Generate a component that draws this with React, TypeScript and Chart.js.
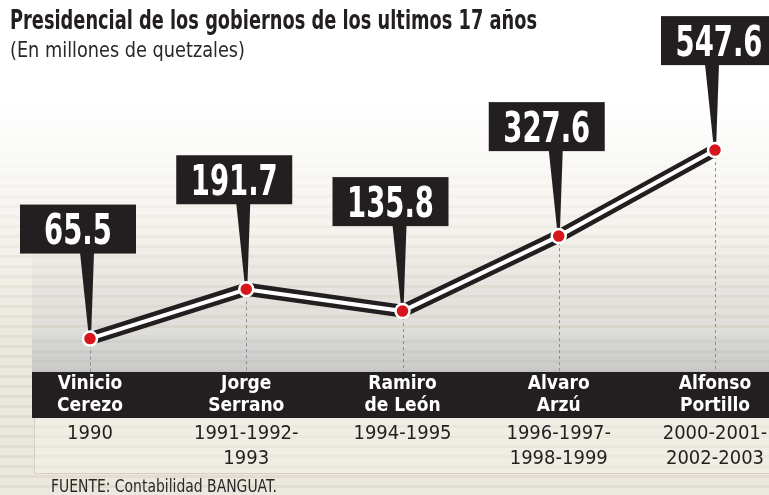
import React, { useEffect, useRef } from "react";
import { Chart, registerables } from "chart.js";

Chart.register(...registerables);

// ---------- data ----------
const presidents: string[][] = [
  ["Vinicio", "Cerezo"],
  ["Jorge", "Serrano"],
  ["Ramiro", "de León"],
  ["Alvaro", "Arzú"],
  ["Alfonso", "Portillo"],
];
const periods: string[][] = [
  ["1990"],
  ["1991-1992-", "1993"],
  ["1994-1995"],
  ["1996-1997-", "1998-1999"],
  ["2000-2001-", "2002-2003"],
];
const spending: number[] = [65.5, 191.7, 135.8, 327.6, 547.6];
const valueLabels: string[] = ["65.5", "191.7", "135.8", "327.6", "547.6"];
const titleText = "Presidencial de los gobiernos de los ultimos 17 años";
const subtitleText = "(En millones de quetzales)";
const sourceText = "FUENTE: Contabilidad BANGUAT.";

// ---------- style ----------
const FONT =
  '"Liberation Sans Narrow", "DejaVu Sans Condensed", "Roboto Condensed", Roboto, "Liberation Sans", sans-serif';
const INK = "#231f20";
const RED = "#d7151d";

function fitText(
  ctx: CanvasRenderingContext2D,
  text: string,
  x: number,
  y: number,
  width: number,
  align: "left" | "center"
) {
  const w = ctx.measureText(text).width;
  const k = Math.min(1, width / w);
  ctx.save();
  ctx.translate(x, y);
  ctx.scale(k, 1);
  ctx.textAlign = align;
  ctx.fillText(text, 0, 0);
  ctx.restore();
}

const decorPlugin = {
  id: "decor",
  beforeDraw(chart: any) {
    const ctx: CanvasRenderingContext2D = chart.ctx;
    const W = chart.width;
    const H = chart.height;
    const xs = chart.scales.x;
    const x2 = chart.scales.x2;
    const bandLeft = 32;
    const grayTop = xs.top - 37;
    ctx.save();
    // base background
    const g = ctx.createLinearGradient(0, 100, 0, 340);
    g.addColorStop(0, "#ffffff");
    g.addColorStop(1, "#ebe8df");
    ctx.fillStyle = g;
    ctx.fillRect(0, 0, W, H);
    ctx.fillStyle = "#ebe8df";
    ctx.fillRect(0, 340, W, H - 340);
    // greyish overlay on plotting side
    const go = ctx.createLinearGradient(0, 230, 0, grayTop);
    go.addColorStop(0, "rgba(218,218,216,0)");
    go.addColorStop(1, "rgba(218,218,216,0.8)");
    ctx.fillStyle = go;
    ctx.fillRect(bandLeft, 230, W - bandLeft, grayTop - 230);
    // stripes
    for (let y = 125; y < H; y += 10) {
      const a = Math.min(1, Math.max(0, (y - 125) / 220));
      ctx.fillStyle = `rgba(190,180,150,${(a * 0.2).toFixed(3)})`;
      ctx.fillRect(0, y, W, 3);
    }
    // gray band
    const gg = ctx.createLinearGradient(0, grayTop, 0, xs.top);
    gg.addColorStop(0, "#d9d9d7");
    gg.addColorStop(1, "#c9c9c8");
    ctx.fillStyle = gg;
    ctx.fillRect(bandLeft, grayTop, W - bandLeft, xs.top - grayTop);
    for (let y = grayTop + 5; y < xs.top; y += 10) {
      ctx.fillStyle = "rgba(170,170,165,0.15)";
      ctx.fillRect(bandLeft, y, W - bandLeft, 3);
    }
    // black band for names
    ctx.fillStyle = INK;
    ctx.fillRect(bandLeft, xs.top, W - bandLeft, xs.bottom - xs.top);
    // years box
    ctx.fillStyle = "rgba(245,243,236,0.45)";
    ctx.fillRect(bandLeft + 2, x2.top, W - bandLeft - 2, x2.bottom - x2.top);
    ctx.strokeStyle = "#d3cfc2";
    ctx.lineWidth = 1;
    ctx.beginPath();
    ctx.moveTo(bandLeft + 2.5, x2.top);
    ctx.lineTo(bandLeft + 2.5, x2.bottom + 0.5);
    ctx.lineTo(W, x2.bottom + 0.5);
    ctx.stroke();

    // titles
    ctx.fillStyle = INK;
    ctx.textBaseline = "alphabetic";
    ctx.font = `bold 26px ${FONT}`;
    fitText(ctx, titleText, 10, 29, 527, "left");
    ctx.fillStyle = "#2b2728";
    ctx.font = `21px ${FONT}`;
    fitText(ctx, subtitleText, 10, 57, 235, "left");
    ctx.font = `17px ${FONT}`;
    fitText(ctx, sourceText, 51, 492, 226, "left");
    ctx.restore();
  },
  beforeDatasetsDraw(chart: any) {
    const ctx: CanvasRenderingContext2D = chart.ctx;
    const W = chart.width;
    const xs = chart.scales.x;
    const meta = chart.getDatasetMeta(0);
    ctx.save();
    // dotted drop lines
    ctx.strokeStyle = "#8c8c8c";
    ctx.lineWidth = 1;
    ctx.setLineDash([3, 3]);
    meta.data.forEach((pt: any) => {
      const px = Math.round(pt.x) + 0.5;
      ctx.beginPath();
      ctx.moveTo(px, pt.y);
      ctx.lineTo(px, xs.top);
      ctx.stroke();
    });
    ctx.setLineDash([]);
    // callouts
    ctx.font = `bold 43px ${FONT}`;
    const k = Math.min(1, 87 / ctx.measureText("327.6").width);
    meta.data.forEach((pt: any, i: number) => {
      const bw = 116;
      const bh = 49;
      let cx = pt.x - 12;
      if (i === meta.data.length - 1) cx = Math.max(cx, W - bw / 2 + 8);
      const by = pt.y - 85 - bh;
      ctx.fillStyle = INK;
      ctx.fillRect(cx - bw / 2, by, bw, bh);
      ctx.beginPath();
      ctx.moveTo(pt.x - 10, by + bh - 1);
      ctx.lineTo(pt.x + 4, by + bh - 1);
      ctx.lineTo(pt.x + 1, pt.y);
      ctx.lineTo(pt.x - 1, pt.y);
      ctx.closePath();
      ctx.fill();
      ctx.fillStyle = "#ffffff";
      ctx.save();
      ctx.translate(cx, by + bh / 2 + 15);
      ctx.scale(k, 1);
      ctx.textAlign = "center";
      ctx.textBaseline = "alphabetic";
      ctx.fillText(valueLabels[i], 0, 0);
      ctx.restore();
    });
    ctx.restore();
  },
};

const noSidePadding = (h: number) => (s: any) => {
  s.height = h;
  s.paddingLeft = 0;
  s.paddingRight = 0;
};

export default function App() {
  const ref = useRef<HTMLCanvasElement | null>(null);
  useEffect(() => {
    if (!ref.current) return;
    const chart = new Chart(ref.current, {
      type: "line",
      data: {
        labels: presidents as any,
        datasets: [
          {
            data: spending,
            borderColor: "#ffffff",
            borderWidth: 4,
            pointRadius: 7,
            pointBackgroundColor: RED,
            pointBorderColor: "#ffffff",
            pointBorderWidth: 2.5,
            tension: 0,
            order: 1,
            xAxisID: "x",
          },
          {
            data: spending,
            borderColor: INK,
            borderWidth: 13,
            pointRadius: 0,
            tension: 0,
            order: 2,
            xAxisID: "x",
          },
        ],
      },
      options: {
        responsive: false,
        animation: false,
        devicePixelRatio: 1,
        layout: { padding: { left: 90, right: 54, top: 71, bottom: 22 } },
        plugins: {
          legend: { display: false },
          tooltip: { enabled: false },
        },
        scales: {
          x: {
            type: "category",
            labels: presidents as any,
            position: "bottom",
            weight: 0,
            offset: false,
            grid: { display: false, drawTicks: false },
            border: { display: false },
            ticks: {
              color: "#ffffff",
              autoSkip: false,
              maxRotation: 0,
              padding: 1,
              font: { family: FONT, size: 19, weight: "bold", lineHeight: 1.16 },
            },
            afterFit: noSidePadding(46),
          },
          x2: {
            type: "category",
            labels: periods as any,
            position: "bottom",
            weight: 1,
            offset: false,
            grid: { display: false, drawTicks: false },
            border: { display: false },
            ticks: {
              color: INK,
              autoSkip: false,
              maxRotation: 0,
              padding: 3,
              font: { family: FONT, size: 20, weight: "normal", lineHeight: 1.25 },
            },
            afterFit: noSidePadding(55),
          },
          y: {
            type: "linear",
            display: false,
            min: -20,
            max: 750,
          },
        },
      } as any,
      plugins: [decorPlugin as any],
    });
    return () => chart.destroy();
  }, []);
  return (
    <div style={{ position: "absolute", left: 0, top: 0, width: 769, height: 495 }}>
      <canvas ref={ref} width={769} height={495} />
    </div>
  );
}
